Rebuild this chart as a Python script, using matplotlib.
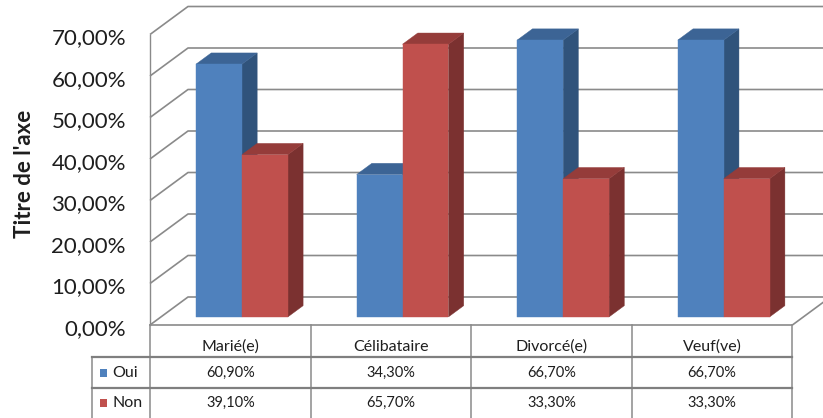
import matplotlib

matplotlib.use("Agg")
import matplotlib.pyplot as plt
from matplotlib.patches import Polygon, Rectangle

categories = ["Marié(e)", "Célibataire", "Divorcé(e)", "Veuf(ve)"]
series_names = ["Oui", "Non"]
oui = [60.9, 34.3, 66.7, 66.7]
non = [39.1, 65.7, 33.3, 33.3]
y_ticks = [0, 10, 20, 30, 40, 50, 60, 70]

FRONT = ["#4F81BD", "#C0504D"]
SIDE = ["#30537B", "#7B3130"]
TOP = ["#3C6495", "#953C3A"]
GRID = "#8a8a8a"
FONT = "Lato"
TXT = "#1e1e1e"

# pixel layout -> data units (1 category = 160.6 px, 1 % = 4.15 px)
PX_U = 160.6
PX_V = 4.15
X0_PX = 150.0
Y0_PX = 325.0


def ux(px):
    return (px - X0_PX) / PX_U


def vy(py):
    return (Y0_PX - py) / PX_V


# oblique depth of the 3D box
DX = 38 / PX_U
DY = 28 / PX_V
BAR_D0, BAR_D1 = 0.29, 0.69
BAR_OFF, BAR_W = 0.218, 0.286
VMAX = 70

fig = plt.figure(figsize=(8.23, 4.18), dpi=100, facecolor="white")
ax = fig.add_axes([0, 0, 1, 1])
ax.set_xlim(ux(0), ux(823))
ax.set_ylim(vy(418), vy(0))
ax.axis("off")

# walls: gridlines on left wall + back wall
for v in y_ticks:
    ax.plot([0, DX, ux(900)], [v, v + DY, v + DY], color=GRID, lw=1.2,
            solid_capstyle="butt", zorder=1)
ax.plot([0, 0], [0, VMAX], color=GRID, lw=1.0, zorder=1)
# floor
ax.plot([0, len(categories), len(categories) + DX], [0, 0, DY],
        color=GRID, lw=1.2, zorder=1)

# bars
bd = BAR_D1 - BAR_D0
for i in range(len(categories)):
    for s, vals in enumerate([oui, non]):
        val = vals[i]
        x0 = i + BAR_OFF + s * BAR_W + BAR_D0 * DX
        x1 = x0 + BAR_W
        b = BAR_D0 * DY
        t = val + b
        ox, oy = bd * DX, bd * DY
        side = [(x1, b), (x1 + ox, b + oy), (x1 + ox, t + oy), (x1, t)]
        top = [(x0, t), (x1, t), (x1 + ox, t + oy), (x0 + ox, t + oy)]
        front = [(x0, b), (x1, b), (x1, t), (x0, t)]
        for pts, col in [(side, SIDE[s]), (top, TOP[s]), (front, FRONT[s])]:
            ax.add_patch(Polygon(pts, closed=True, facecolor=col, edgecolor=col,
                                 lw=0.3, zorder=2))

# y tick labels
for v in y_ticks:
    ax.text(ux(126), v - 0.9, f"{v:.2f}%".replace(".", ","), ha="right",
            va="center", fontsize=16, family=FONT, color=TXT)

ax.text(ux(24), vy(174), "Titre de l'axe", rotation=90, ha="center", va="center",
        fontsize=16, fontweight="bold", family=FONT, color=TXT)

# data table
n = len(categories)
leg_left = ux(92)
row_tops = [vy(357), vy(388)]
for k in range(n + 1):
    ax.plot([k, k], [0, vy(420)], color=GRID, lw=1.1, zorder=1)
ax.plot([leg_left, leg_left], [row_tops[0], vy(420)], color=GRID, lw=1.1)
for r in row_tops:
    ax.plot([leg_left, n], [r, r], color="#7f7f7f", lw=1.6)

header_y = vy(347)
row_y = [vy(373), vy(403)]
for i, cat in enumerate(categories):
    ax.text(i + 0.5, header_y, cat, ha="center", va="center", fontsize=11.5,
            family=FONT, color=TXT)
for s, vals in enumerate([oui, non]):
    ax.add_patch(Rectangle((ux(100), row_y[s] - 4 / PX_V), 7 / PX_U, 8 / PX_V,
                           facecolor=FRONT[s], edgecolor="none"))
    ax.text(ux(112), row_y[s], series_names[s], ha="left", va="center",
            fontsize=11.5, family=FONT, color=TXT)
    for i, val in enumerate(vals):
        ax.text(i + 0.5, row_y[s], f"{val:.2f}%".replace(".", ","), ha="center",
                va="center", fontsize=10.5, family=FONT, color=TXT)

fig.savefig("out.png", dpi=100, facecolor="white")
